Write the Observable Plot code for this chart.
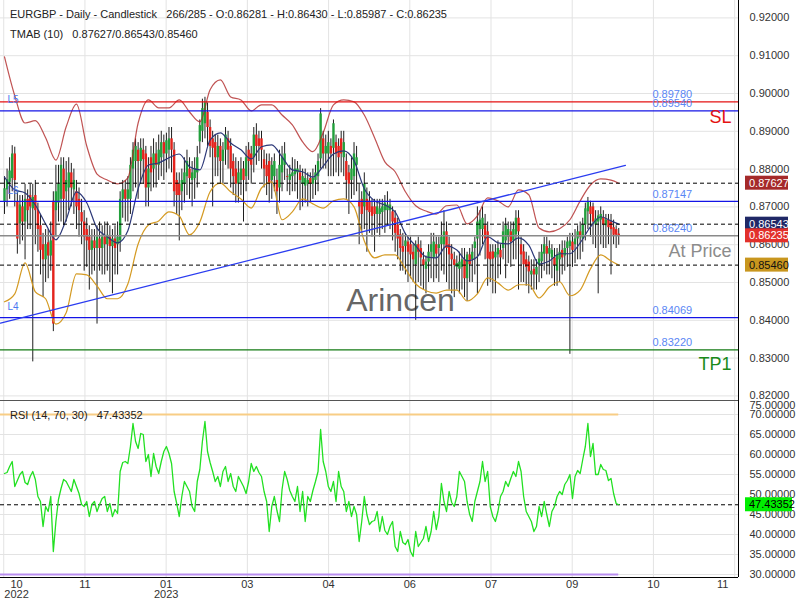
<!DOCTYPE html>
<html><head><meta charset="utf-8">
<script src="https://cdn.jsdelivr.net/npm/d3@7"></script>
<script src="https://cdn.jsdelivr.net/npm/@observablehq/plot@0.6"></script>
<style>
body{margin:0;background:#fff;}
#wrap{position:relative;width:800px;height:600px;overflow:hidden;font-family:"Liberation Sans",Arial,Helvetica,sans-serif;}
#top,#bot{position:absolute;left:0;}
#top{top:0}#bot{top:400px}
.lbl{position:absolute;left:10px;font-size:11px;color:#222;white-space:pre;line-height:14px;}
</style></head><body>
<div id="wrap"><div id="top"></div><div id="bot"></div>
<div class="lbl" style="top:7px">EURGBP - Daily - Candlestick   266/285 - O:0.86281 - H:0.86430 - L:0.85987 - C:0.86235</div>
<div class="lbl" style="top:27px">TMAB (10)   0.87627/0.86543/0.85460</div>
<div class="lbl" style="top:408px">RSI (14, 70, 30)   47.43352</div>
</div>
<script>
// ---------- DATA (prices in pips: value / 10000) ----------
const opens = [8713,8745,8765,8775,8840,8712,8655,8700,8660,8720,
 8730,8695,8730,8690,8650,8600,8560,8605,8570,8715,
 8690,8710,8720,8800,8740,8750,8790,8745,8740,8720,
 8685,8660,8640,8620,8585,8610,8590,8615,8590,8620,
 8600,8620,8595,8615,8600,8610,8720,8745,8720,8720,
 8800,8820,8850,8820,8850,8840,8750,8830,8800,8840,
 8810,8830,8870,8840,8850,8880,8850,8770,8760,8740,
 8760,8780,8800,8770,8775,8790,8872,8900,8920,8950,
 8910,8880,8870,8830,8860,8820,8850,8880,8860,8820,
 8800,8760,8770,8800,8780,8850,8840,8830,8890,8880,
 8880,8825,8810,8820,8770,8780,8770,8750,8790,8810,
 8780,8770,8780,8785,8790,8790,8760,8755,8760,8775,
 8760,8770,8780,8827,8880,8840,8840,8860,8855,8870,
 8860,8880,8830,8820,8790,8770,8780,8810,8715,8720,
 8700,8720,8715,8700,8700,8680,8680,8685,8690,8690,
 8690,8687,8670,8652,8626,8595,8595,8607,8600,8580,
 8547,8600,8590,8560,8535,8554,8580,8565,8600,8590,
 8600,8600,8634,8600,8575,8560,8540,8535,8540,8560,
 8510,8573,8560,8590,8615,8640,8640,8650,8634,8580,
 8581,8565,8573,8585,8590,8610,8620,8634,8610,8626,
 8670,8600,8581,8560,8554,8520,8535,8520,8545,8555,
 8575,8595,8575,8565,8565,8530,8560,8585,8570,8590,
 8595,8607,8600,8615,8634,8615,8652,8687,8700,8700,
 8652,8660,8665,8672,8650,8665,8660,8645,8640,8628.1];
const highs = [8780,8800,8830,8862,8858,8740,8730,8730,8760,8745,
 8760,8760,8770,8710,8680,8630,8640,8640,8660,8740,
 8810,8810,8830,8830,8820,8830,8815,8800,8770,8750,
 8720,8690,8670,8650,8640,8640,8650,8660,8650,8660,
 8660,8650,8640,8650,8660,8740,8770,8770,8780,8830,
 8870,8880,8870,8880,8880,8860,8830,8860,8880,8870,
 8890,8900,8890,8895,8910,8910,8870,8790,8790,8800,
 8830,8850,8830,8820,8830,8860,8930,8985,8990,8975,
 8930,8900,8890,8890,8880,8870,8910,8900,8880,8840,
 8830,8820,8830,8820,8860,8870,8860,8910,8920,8900,
 8900,8850,8840,8840,8830,8840,8800,8850,8860,8870,
 8800,8810,8830,8825,8820,8810,8800,8800,8790,8790,
 8800,8810,8840,8960,8900,8890,8900,8880,8930,8890,
 8880,8900,8900,8840,8810,8830,8870,8860,8760,8740,
 8790,8750,8740,8720,8720,8720,8720,8720,8730,8740,
 8720,8700,8690,8670,8640,8630,8630,8620,8620,8600,
 8610,8620,8610,8580,8570,8600,8630,8630,8620,8620,
 8660,8690,8660,8620,8600,8580,8570,8580,8590,8590,
 8580,8590,8600,8620,8700,8690,8700,8680,8660,8600,
 8600,8600,8610,8600,8660,8670,8660,8660,8660,8690,
 8690,8620,8600,8580,8570,8560,8560,8560,8580,8600,
 8620,8620,8610,8600,8590,8590,8600,8610,8610,8620,
 8630,8630,8640,8650,8660,8670,8710,8725,8715,8710,
 8690,8690,8700,8690,8680,8680,8680,8665,8650,8643.0];
const lows = [8680,8700,8720,8740,8700,8575,8600,8610,8560,8640,
 8640,8290,8600,8580,8520,8460,8500,8510,8530,8370,
 8620,8660,8660,8650,8660,8690,8700,8680,8640,8620,
 8600,8530,8540,8480,8520,8530,8390,8530,8520,8520,
 8530,8500,8470,8520,8520,8580,8670,8660,8660,8680,
 8740,8750,8720,8760,8760,8700,8700,8740,8750,8750,
 8770,8780,8770,8790,8800,8790,8700,8680,8610,8690,
 8710,8730,8720,8700,8720,8750,8840,8870,8880,8860,
 8830,8700,8780,8780,8760,8760,8810,8800,8750,8730,
 8710,8710,8730,8660,8740,8770,8760,8790,8810,8820,
 8800,8750,8730,8710,8720,8740,8680,8710,8740,8770,
 8740,8730,8740,8740,8720,8690,8700,8710,8700,8710,
 8720,8730,8740,8800,8800,8800,8780,8780,8780,8790,
 8780,8790,8780,8720,8680,8720,8730,8740,8600,8630,
 8640,8580,8630,8620,8580,8630,8620,8640,8630,8650,
 8640,8610,8580,8560,8530,8530,8520,8500,8510,8500,
 8400,8500,8490,8480,8470,8500,8510,8500,8510,8500,
 8530,8520,8500,8480,8470,8460,8480,8470,8480,8460,
 8450,8500,8500,8520,8470,8570,8600,8560,8490,8500,
 8470,8470,8510,8520,8560,8510,8550,8540,8560,8560,
 8480,8500,8500,8490,8470,8480,8480,8480,8500,8510,
 8530,8520,8520,8510,8490,8490,8500,8520,8530,8540,
 8310,8540,8550,8560,8560,8580,8610,8640,8620,8600,
 8590,8470,8600,8590,8590,8600,8520,8600,8590,8598.7];
const closes = [8748,8772,8795,8840,8770,8615,8705,8660,8720,8690,
 8700,8725,8690,8640,8585,8560,8600,8570,8610,8390,
 8740,8760,8810,8720,8770,8790,8750,8770,8700,8690,
 8660,8620,8610,8585,8610,8590,8620,8590,8620,8600,
 8625,8595,8615,8590,8620,8720,8745,8720,8745,8810,
 8850,8860,8820,8855,8825,8750,8800,8790,8840,8810,
 8850,8870,8840,8875,8880,8850,8740,8730,8730,8770,
 8790,8820,8775,8790,8800,8830,8915,8960,8975,8910,
 8860,8855,8830,8860,8820,8850,8890,8850,8800,8780,
 8760,8790,8800,8770,8830,8820,8810,8890,8860,8860,
 8850,8800,8780,8760,8810,8820,8740,8810,8830,8840,
 8778,8785,8790,8800,8800,8770,8780,8775,8770,8760,
 8775,8790,8820,8946,8840,8860,8870,8840,8920,8840,
 8830,8840,8870,8770,8760,8800,8840,8830,8700,8680,
 8760,8690,8685,8675,8680,8700,8695,8700,8710,8705,
 8705,8660,8630,8615,8590,8580,8610,8580,8573,8560,
 8600,8580,8565,8545,8554,8580,8600,8607,8575,8600,
 8620,8634,8590,8573,8560,8545,8550,8554,8560,8510,
 8573,8547,8580,8607,8660,8665,8670,8615,8562,8560,
 8562,8580,8590,8565,8634,8650,8640,8607,8640,8670,
 8634,8573,8547,8540,8528,8530,8520,8540,8562,8580,
 8600,8575,8590,8585,8545,8573,8580,8565,8590,8607,
 8610,8585,8615,8634,8620,8652,8695,8713,8680,8660,
 8668,8676,8680,8652,8665,8645,8640,8625,8625,8623.5];

// TMA bands, one reading every 4 bars (last one on the final bar)
const upperBand = [9097,8994,8922,8928,8883,8824,8912,8972,8861,8787,
 8771,8761,8777,8922,8983,8962,8962,8983,8951,8925,
 9010,9036,8991,8983,8954,8970,8970,8943,8917,8872,
 8846,8896,8970,8983,8978,8943,8883,8819,8793,8740,
 8703,8689,8681,8703,8705,8655,8676,8724,8716,8700,
 8745,8732,8644,8634,8642,8666,8716,8758,8774,8771,8762.7];
const middleBand = [8779,8745,8737,8705,8655,8613,8666,8740,8711,8644,
 8621,8605,8637,8748,8811,8816,8830,8840,8806,8798,
 8877,8896,8869,8851,8827,8859,8864,8832,8798,8793,
 8779,8808,8840,8848,8822,8748,8716,8705,8687,8629,
 8597,8568,8565,8597,8586,8557,8568,8621,8605,8602,
 8618,8599,8549,8557,8576,8576,8605,8647,8674,8663,8654.3];
const lowerBand = [8449,8470,8552,8475,8457,8390,8420,8523,8520,8491,
 8457,8457,8496,8602,8652,8663,8687,8676,8626,8660,
 8740,8763,8740,8721,8697,8750,8766,8666,8687,8721,
 8708,8697,8716,8721,8700,8610,8565,8573,8573,8536,
 8496,8478,8472,8480,8480,8451,8470,8512,8499,8480,
 8494,8494,8459,8488,8502,8465,8480,8536,8573,8557,8546];

const rsiValues = [55.25,55.5,57,58.25,52,53.5,55,55.75,53,52.5,
 54.5,55.75,53.75,49.5,48.25,42,47,45.75,49.5,35.75,
 43.25,48.75,51.5,53.75,53.25,52,50.75,53.75,52,50.25,
 47.5,47,48.25,44.5,47.5,48.25,45.75,47.5,49,49.5,
 45.75,47.75,44.5,46.25,45.25,55.75,58,58.25,57.75,62,
 67.75,63.25,61.5,65.25,65,58.25,60,54.5,60.25,57,
 55.25,58.25,60.75,62,60.25,57.75,50.75,47.75,44.5,49.5,
 53.25,52,50.75,47,45.75,53.25,56.25,63.25,68.25,60.75,
 58,55.75,53.25,54.5,52,55.75,57,53.25,55.25,52,
 50.75,54.5,53.25,52,50.25,53.25,57.75,55.75,57,55.5,
 54.5,50.75,48.25,40.75,47,49.5,46,43.25,51.25,55.75,
 53.75,51,49.5,48.25,52,45.75,50.75,43.25,49.5,48.25,
 51,53.25,55.75,66.25,58.25,55.75,52,50.75,53.25,48.25,
 55.75,52,50.75,45.75,48.25,44.5,47,45,38.25,43.25,
 49.5,45,42.5,43.25,43.5,45.75,40.75,44.5,41,40,
 42,43.25,37,35.75,40.75,38,37.5,38.75,35.75,34.5,
 40.75,37,38,39,42,38.25,40.75,45.75,41.25,44.5,
 52.75,48.25,45.75,50.75,48,47,49.5,55.75,54.5,53.25,
 48.25,45,43.25,48.25,50.75,53.25,58.25,53.25,55.75,47,
 44.5,43.25,45.75,49.5,50.75,53.25,52,54,55.75,54.5,
 58.25,55.75,49.5,45.75,44.5,43.25,40.75,42,47,44.5,
 48.25,45,42,45.75,47,49.5,50.75,50,52.5,53.5,
 55,49,54.5,56,55.25,58.75,62,67.75,59.5,62.75,
 55,55,57.5,56.25,56,53.5,54,50.25,47.75,47.43352];

const priceTicks = [0.82,0.83,0.84,0.85,0.86,0.87,0.88,0.89,0.90,0.91,0.92];
const rsiTicks = [30,35,40,45,50,55,60,65,70];
const timeTickBars = [-0.3,31.3,62.9,94.5,126.1,157.7,189.3,220.9,252.5,284.1];
const timeTickLabels = ["10","11","01","03","04","06","07","09","10","11"];
const yearLabels = ["2022","","2023","","","","","","",""];

const solidLevels = [0.89780,0.89540,0.87147,0.84069,0.83220];
const solidColors = ["#e41212","#1414e6","#1414e6","#1414e6","#137a13"];
const levelTexts = ["0.89780","0.89540","0.87147","0.84069","0.83220"];
const dashedLevels = [0.87627,0.86543,0.85460];
const priceLevel = 0.86235; const priceLevelText = "0.86240";
const lLevels = [0.89540,0.87147,0.84069]; const lNames = ["L5","L6","L4"];
const bigLevels = [0.89540,0.86235,0.83220]; const bigTexts = ["SL","At Price","TP1"];
const bigColors = ["#e41212","#8c8c8c","#1a8a1a"];
const trendBars = [-1.556,241.6]; const trendPrices = [0.83923,0.88098];
const tagValues = [0.87627,0.86543,0.86235,0.85460];
const tagFills = ["#a52a2a","#1f2866","#e2302b","#c8961e"];
const tagInk = ["#fff","#fff","#fff","#111"];
const rsiOver = 70, rsiUnder = 30, rsiLast = 47.43352;

// ---------- layout constants ----------
const FONT = '"Liberation Sans", Arial, Helvetica, sans-serif';
const XD = [-1.556, 285.6];
const GREEN = "#22a03c", RED = "#e5231c";
const lineLabelBar = 252.1, lLabelBar = 3.3;

const bars = opens.map((o,i)=>({i, open:o/1e4, high:highs[i]/1e4, low:lows[i]/1e4, close:closes[i]/1e4}));
const bandBars = d3.range(0,240,4).concat([239]);
const band = arr => arr.map((v,k)=>({i:bandBars[k], v:v/1e4}));
const solid = solidLevels.map((v,k)=>({v, c:solidColors[k], t:levelTexts[k]}));
const big = bigLevels.map((v,k)=>({v, t:bigTexts[k], c:bigColors[k], k}));
const lastBar = bars.length - 1;

const topChart = Plot.plot({
  width:800, height:400, marginLeft:0, marginRight:62, marginTop:0, marginBottom:0,
  style:{fontFamily:FONT, fontSize:"11px", color:"#333", background:"transparent", overflow:"visible"},
  x:{domain:XD, axis:null},
  y:{domain:[0.818783,0.924603], axis:"right", ticks:priceTicks, tickFormat:d=>d.toFixed(5), tickSize:0, tickPadding:11, label:null},
  marks:[
    Plot.ruleY(priceTicks, {stroke:"#e3e3e3"}),
    Plot.ruleX(timeTickBars, {stroke:"#e3e3e3"}),
    Plot.text(["Arincen"], {frameAnchor:"middle", lineAnchor:"middle", dx:31, dy:100, fontSize:32, fill:"#666"}),
    Plot.ruleX(bars, {x:"i", y1:"low", y2:"high", stroke:"#1e1e1e", strokeWidth:1}),
    Plot.ruleX(bars, {x:"i", y1:"open", y2:"close", stroke:d=>d.close>=d.open?GREEN:RED, strokeWidth:2.4}),
    Plot.line(band(upperBand), {x:"i", y:"v", stroke:"#b02828", strokeOpacity:0.8, strokeWidth:1.2, curve:"monotone-x"}),
    Plot.line(band(middleBand), {x:"i", y:"v", stroke:"#2c3878", strokeWidth:1.2, curve:"monotone-x"}),
    Plot.line(band(lowerBand), {x:"i", y:"v", stroke:"#d49a22", strokeWidth:1.2, curve:"monotone-x"}),
    Plot.ruleY(dashedLevels, {stroke:"#000", strokeDasharray:"4,3", strokeWidth:1}),
    Plot.ruleY([priceLevel], {stroke:"#8a8a8a", strokeWidth:1.5}),
    Plot.ruleY(solid, {y:"v", stroke:"c", strokeWidth:1.3}),
    Plot.line(trendBars.map((b,k)=>({b, p:trendPrices[k]})), {x:"b", y:"p", stroke:"#2a3cf0", strokeWidth:1.3}),
    Plot.text(solid, {x:()=>lineLabelBar, y:"v", text:"t", dy:-7, textAnchor:"start", fill:"#5a86f5", fontSize:11}),
    Plot.text([priceLevel], {x:()=>lineLabelBar, y:d=>d, text:()=>priceLevelText, dy:-7, textAnchor:"start", fill:"#5a86f5", fontSize:11}),
    Plot.text(lLevels.map((v,k)=>({v, t:lNames[k]})), {x:()=>lLabelBar, y:"v", text:"t", dy:-11, fill:"#4a78f0", fontSize:10}),
    Plot.text(big, {filter:d=>d.k===0, x:()=>XD[1], y:"v", text:"t", fill:"c", dx:-7, dy:6, textAnchor:"end", fontSize:18}),
    Plot.text(big, {filter:d=>d.k===1, x:()=>XD[1], y:"v", text:"t", fill:"c", dx:-7, dy:15, textAnchor:"end", fontSize:18}),
    Plot.text(big, {filter:d=>d.k===2, x:()=>XD[1], y:"v", text:"t", fill:"c", dx:-7, dy:14, textAnchor:"end", fontSize:18}),
    Plot.ruleX([XD[1]], {stroke:"#000"})
  ]
});
document.getElementById("top").appendChild(topChart);

const ticks = timeTickBars.map((b,k)=>({b, t:timeTickLabels[k], yr:yearLabels[k], k}));
const nT = ticks.length;
const botChart = Plot.plot({
  width:800, height:200, marginLeft:0, marginRight:62, marginTop:0, marginBottom:23,
  style:{fontFamily:FONT, fontSize:"11px", color:"#333", background:"transparent", overflow:"visible"},
  x:{domain:XD, axis:null},
  y:{domain:[29.25,73.5], axis:"right", ticks:rsiTicks, tickFormat:d=>d.toFixed(5), tickSize:0, tickPadding:11, label:null},
  marks:[
    Plot.ruleY(rsiTicks, {stroke:"#e3e3e3"}),
    Plot.ruleX(timeTickBars, {stroke:"#e3e3e3"}),
    Plot.ruleY([{y:rsiOver, a:XD[0], b:lastBar}], {y:"y", x1:"a", x2:"b", stroke:"#f8cd85", strokeWidth:2}),
    Plot.ruleY([{y:rsiUnder, a:XD[0], b:lastBar}], {y:"y", x1:"a", x2:"b", stroke:"#b98ef0", strokeWidth:2}),
    Plot.ruleY([rsiLast], {stroke:"#000", strokeDasharray:"4,3"}),
    Plot.line(rsiValues.map((v,i)=>({i,v})), {x:"i", y:"v", stroke:"#22e022", strokeWidth:1.3}),
    Plot.ruleY([73.5], {stroke:"#555"}),
    Plot.ruleY([29.25], {stroke:"#000"}),
    Plot.ruleX([XD[1]], {stroke:"#000"}),
    Plot.text(["75.00000"], {frameAnchor:"top-right", lineAnchor:"middle", dx:11, dy:4.5, textAnchor:"start", fill:"#333"}),
    Plot.text(ticks, {filter:d=>d.k===0, x:"b", text:"t", frameAnchor:"bottom", lineAnchor:"middle", dx:12.8, dy:6.5, fill:"#333"}),
    Plot.text(ticks, {filter:d=>d.k>0 && d.k<nT-1, x:"b", text:"t", frameAnchor:"bottom", lineAnchor:"middle", dy:6.5, fill:"#333"}),
    Plot.text(ticks, {filter:d=>d.k===nT-1, x:"b", text:"t", frameAnchor:"bottom", lineAnchor:"middle", dx:-12, dy:6.5, fill:"#333"}),
    Plot.text(ticks, {filter:d=>d.k===0 && d.yr, x:"b", text:"yr", frameAnchor:"bottom", lineAnchor:"middle", dx:12.8, dy:16.5, fill:"#333"}),
    Plot.text(ticks, {filter:d=>d.k>0 && d.yr, x:"b", text:"yr", frameAnchor:"bottom", lineAnchor:"middle", dy:16.5, fill:"#333"})
  ]
});
document.getElementById("bot").appendChild(botChart);

// price tags on the right axis, placed through the plots' own y scales
function tag(chart, value, fill, ink, w){
  const y = chart.scale("y").apply(value);
  const g = d3.select(chart).append("g").attr("text-anchor","start");
  g.append("rect").attr("x",745).attr("y",y-7).attr("width",w).attr("height",14).attr("fill",fill);
  g.append("text").attr("x",749).attr("y",y).attr("dy","0.36em").attr("fill",ink)
    .attr("text-anchor","start").attr("font-size",11).attr("font-family",FONT).text(value.toFixed(5));
}
tagValues.forEach((v,k)=>tag(topChart, v, tagFills[k], tagInk[k], 43));
tag(botChart, rsiLast, "#00ee00", "#000", 47);
</script>
</body></html>
